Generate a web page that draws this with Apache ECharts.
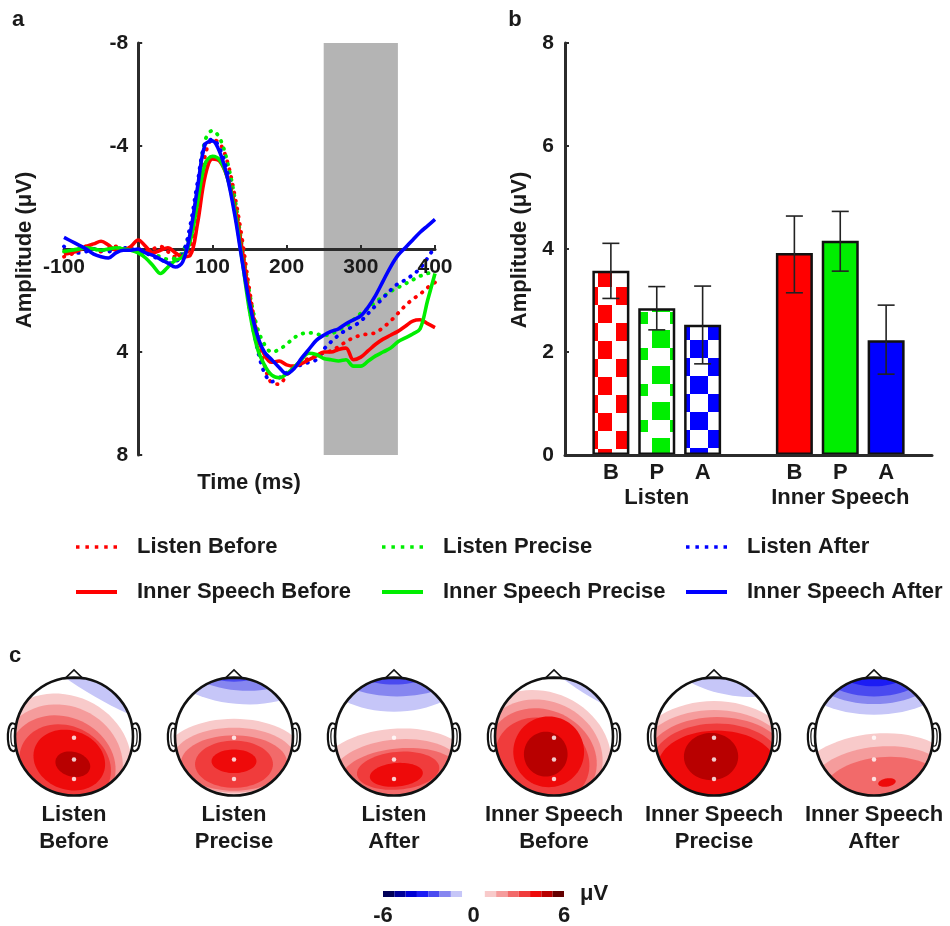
<!DOCTYPE html>
<html>
<head>
<meta charset="utf-8">
<script src="https://cdn.jsdelivr.net/npm/echarts@6/dist/echarts.min.js"></script>
<style>
  html, body { margin: 0; padding: 0; background: #fff; }
  #chart { width: 950px; height: 926px; }
</style>
</head>
<body>
<div id="chart"></div>
<script>
// ---- panel a: ERP waveforms (µV, positive plotted downward) ----
const timeMs = [-100, -90, -80, -70, -60, -50, -40, -30, -20, -10, 0, 10, 20, 30, 40, 50, 60, 70, 80, 90, 100,
  110, 120, 130, 140, 150, 160, 170, 180, 190, 200, 210, 220, 230, 240, 250, 260, 270, 280, 290, 300,
  310, 320, 330, 340, 350, 360, 370, 380, 390, 400];

const listenBefore = [0.3, 0.2, 0.0, -0.1, 0.0, 0.1, 0.0, -0.1, 0.0, 0.0, 0.0,
  0.1, 0.0, -0.1, 0.1, 0.3, 0.3, -0.1, -1.6, -3.6, -4.25,
  -4.1, -3.4, -2.1, -0.4, 1.6, 3.3, 4.5, 5.2, 5.25, 4.9,
  4.6, 4.4, 4.25, 4.15, 4.05, 3.95, 3.8, 3.6, 3.45, 3.35,
  3.3, 3.25, 3.05, 2.8, 2.5, 2.2, 1.95, 1.75, 1.5, 1.3];
const listenPrecise = [0.1, 0.05, 0.0, -0.05, 0.0, 0.05, 0.0, -0.05, 0.0, 0.05, 0.1,
  0.15, 0.2, 0.3, 0.4, 0.35, 0.1, -0.7, -2.4, -4.2, -4.6,
  -4.3, -3.4, -2.0, -0.1, 1.7, 3.0, 3.7, 4.0, 3.9, 3.7,
  3.45, 3.3, 3.25, 3.3, 3.35, 3.3, 3.15, 3.0, 2.75, 2.5,
  2.3, 2.05, 1.85, 1.65, 1.5, 1.35, 1.2, 1.05, 0.95, 0.85];
const listenAfter = [-0.1, 0.1, 0.15, 0.1, 0.0, 0.05, 0.1, 0.0, -0.05, 0.0, 0.05,
  0.15, 0.3, 0.4, 0.55, 0.5, 0.2, -0.9, -2.6, -4.1, -4.25,
  -3.9, -3.0, -1.6, 0.3, 2.3, 3.8, 4.8, 5.15, 5.0, 4.8,
  4.6, 4.5, 4.4, 4.3, 3.9, 3.6, 3.35, 3.15, 3.0, 2.8,
  2.5, 2.2, 1.9, 1.6, 1.35, 1.2, 1.0, 0.75, 0.35, -0.1];
const innerBefore = [0.2, 0.15, 0.05, -0.1, -0.2, -0.3, -0.15, 0.05, 0.05, -0.1, -0.35,
  -0.1, 0.15, 0.05, -0.05, 0.15, 0.3, 0.25, -1.0, -2.8, -3.5,
  -3.4, -2.8, -1.7, 0.0, 1.9, 3.3, 4.1, 4.4, 4.35, 4.5,
  4.55, 4.45, 4.3, 4.15, 4.0, 4.0, 3.9, 3.85, 4.3, 4.2,
  3.95, 3.7, 3.5, 3.35, 3.2, 3.0, 2.8, 2.75, 2.9, 3.05];
const innerPrecise = [0.1, 0.05, 0.0, -0.05, 0.0, 0.05, 0.0, -0.05, 0.0, 0.05, 0.15,
  0.35, 0.65, 0.95, 0.7, 0.45, 0.3, -0.3, -1.8, -3.3, -3.6,
  -3.45, -2.8, -1.5, 0.4, 2.4, 3.8, 4.5, 4.9, 5.0, 4.85,
  4.6, 4.3, 4.05, 4.1, 4.25, 4.3, 4.35, 4.3, 4.55, 4.55,
  4.35, 4.15, 4.0, 3.85, 3.6, 3.45, 3.3, 3.1, 2.0, 0.95];
const innerAfter = [-0.45, -0.3, -0.15, 0.0, 0.2, 0.3, 0.35, 0.15, 0.05, 0.05, 0.0,
  0.15, 0.25, 0.4, 0.55, 0.7, 0.5, -0.6, -2.4, -4.05, -4.2,
  -3.75, -2.8, -1.35, 0.45, 2.1, 3.3, 4.0, 4.3, 4.6, 4.85,
  4.65, 4.25, 3.9, 3.55, 3.35, 3.2, 3.1, 2.9, 2.75, 2.6,
  2.25, 1.8, 1.25, 0.7, 0.25, -0.05, -0.35, -0.65, -0.9, -1.15];
const analysisWindow = [250, 350];   // shaded window (ms)

// ---- panel b: mean amplitude in window ----
const barPos = [1, 2, 3, 5, 6, 7];
const barLetters = ['B', 'P', 'A', 'B', 'P', 'A'];
const groupNames = ['Listen', 'Inner Speech'];
const barMean = [3.58, 2.85, 2.53, 3.92, 4.16, 2.23];
const barErrLow = [3.04, 2.43, 1.77, 3.15, 3.57, 1.57];
const barErrHigh = [4.11, 3.27, 3.28, 4.64, 4.73, 2.91];

// ---- panel c: scalp maps, contour levels as ellipses [cx, cy, rx, ry, rotDeg, µV] (head radius = 1) ----
const topoListenBefore = [
  [0.6, 1.11, 1.8, 0.5, -30, -1.1],
  [-0.2, -0.35, 1.2, 1.05, -25, 1.1],
  [-0.2, -0.4, 1.05, 0.92, -25, 1.9],
  [-0.2, -0.45, 0.93, 0.78, -25, 2.6],
  [-0.15, -0.48, 0.8, 0.66, -25, 3.4],
  [-0.08, -0.4, 0.62, 0.5, -20, 4.1],
  [-0.02, -0.47, 0.3, 0.21, -15, 4.9]];
const topoListenPrecise = [
  [0.1, 1.35, 1.4, 0.8, -5, -1.1],
  [0.1, 1.4, 1.15, 0.62, -5, -1.9],
  [0.0, 1.35, 0.75, 0.42, 0, -2.6],
  [0, -0.35, 1.2, 0.65, 0, 1.1],
  [0, -0.4, 1.05, 0.55, 0, 1.9],
  [0, -0.45, 0.9, 0.47, 0, 2.6],
  [0, -0.47, 0.66, 0.4, 0, 3.4],
  [0, -0.42, 0.38, 0.2, 0, 4.1]];
const topoListenAfter = [
  [0, 1.2, 1.3, 0.78, 0, -1.1],
  [0.05, 1.25, 1.2, 0.57, 0, -1.9],
  [0, 1.3, 0.85, 0.42, 0, -2.6],
  [0, -0.55, 1.3, 0.68, 5, 1.1],
  [0.05, -0.6, 1.1, 0.55, 5, 1.9],
  [0.1, -0.65, 1.0, 0.45, 5, 2.6],
  [0.07, -0.58, 0.7, 0.32, 5, 3.4],
  [0.04, -0.65, 0.45, 0.2, 5, 4.1]];
const topoInnerBefore = [
  [0.75, 1.15, 1.6, 0.48, -32, -1.1],
  [-0.2, -0.25, 1.2, 1.0, -25, 1.1],
  [-0.2, -0.3, 1.05, 0.9, -25, 1.9],
  [-0.2, -0.35, 0.95, 0.8, -25, 2.6],
  [-0.2, -0.4, 0.82, 0.7, -25, 3.4],
  [-0.09, -0.26, 0.6, 0.6, 0, 4.1],
  [-0.14, -0.3, 0.37, 0.38, 0, 4.9]];
const topoInnerPrecise = [
  [0.3, 1.1, 1.0, 0.4, -10, -1.1],
  [0, -0.4, 1.4, 1.0, 0, 1.1],
  [0, -0.4, 1.3, 0.85, 0, 1.9],
  [0.05, -0.4, 1.2, 0.73, 0, 2.6],
  [0.05, -0.45, 1.1, 0.67, 0, 3.4],
  [0.05, -0.5, 1.0, 0.6, 0, 4.1],
  [-0.05, -0.34, 0.46, 0.4, 0, 4.9]];
const topoInnerAfter = [
  [0, 1.15, 1.4, 0.78, 0, -1.1],
  [0, 1.25, 1.2, 0.7, 0, -1.9],
  [0, 1.3, 1.05, 0.62, 0, -2.6],
  [0, 1.35, 0.8, 0.5, 0, -3.4],
  [0.05, -0.75, 1.4, 0.8, 5, 1.1],
  [0.1, -0.8, 1.2, 0.63, 5, 1.9],
  [0.15, -0.85, 1.0, 0.5, 5, 2.6],
  [0.22, -0.78, 0.15, 0.07, 10, 4.1]];
const electrodePos = [[0, -0.02], [0, -0.39], [0, -0.72]];
const topoLabels = [['Listen', 'Before'], ['Listen', 'Precise'], ['Listen', 'After'],
  ['Inner Speech', 'Before'], ['Inner Speech', 'Precise'], ['Inner Speech', 'After']];
const colorbarTicks = [-6, 0, 6];

const FONT = '"Liberation Sans", Arial, Helvetica, sans-serif';
const INK = '#1a1a1a';
const AXIS = '#2b2b2b';

const chart = echarts.init(document.getElementById('chart'));

const lineDefs = [
  { name: 'Listen Before', data: listenBefore, color: '#ff0000', dotted: true },
  { name: 'Listen Precise', data: listenPrecise, color: '#00ee00', dotted: true },
  { name: 'Listen After', data: listenAfter, color: '#0000ff', dotted: true },
  { name: 'Inner Speech Before', data: innerBefore, color: '#ff0000', dotted: false },
  { name: 'Inner Speech Precise', data: innerPrecise, color: '#00ee00', dotted: false },
  { name: 'Inner Speech After', data: innerAfter, color: '#0000ff', dotted: false }
];

// checkerboard fill for the Listen bars
function checker(color, ox, oy) {
  const c = document.createElement('canvas');
  c.width = 36; c.height = 36;
  const g = c.getContext('2d');
  g.fillStyle = '#fff';
  g.fillRect(0, 0, 36, 36);
  g.fillStyle = color;
  for (let i = -1; i <= 2; i++) {
    for (let j = -1; j <= 2; j++) {
      if ((i + j) % 2 === 0) g.fillRect(ox + 18 * i, oy + 18 * j, 18, 18);
    }
  }
  return { image: c, repeat: 'repeat' };
}
const barFills = [checker('#ff0000', 22, 17), checker('#00ee00', 22, 24), checker('#0000ff', 6, 16),
  '#ff0000', '#00ee00', '#0000ff'];

const headCx = [74, 234, 394, 554, 714, 874];
const headCy = 736.5;
const headR = 59;
const topoMaps = [topoListenBefore, topoListenPrecise, topoListenAfter,
  topoInnerBefore, topoInnerPrecise, topoInnerAfter];

function ellipsePts(api, cx, cy, rx, ry, rotDeg) {
  const a = rotDeg * Math.PI / 180, ca = Math.cos(a), sa = Math.sin(a);
  const pts = [];
  for (let k = 0; k < 72; k++) {
    const t = k / 72 * Math.PI * 2;
    const u = rx * Math.cos(t), v = ry * Math.sin(t);
    pts.push(api.coord([cx + u * ca - v * sa, cy + u * sa + v * ca]));
  }
  return pts;
}

function renderTopo(params, api) {
  const c = api.coord([0, 0]);
  const r = api.size([1, 1])[0];
  return {
    type: 'polygon',
    shape: { points: ellipsePts(api, api.value(0), api.value(1), api.value(2), api.value(3), api.value(4)) },
    style: { fill: api.visual('color'), stroke: null },
    clipPath: { type: 'circle', shape: { cx: c[0], cy: c[1], r: r } }
  };
}

function renderHead(params, api) {
  const c = api.coord([0, 0]);
  const r = api.size([1, 1])[0];
  const P = (x, y) => api.coord([x, y]);
  const stroke = { stroke: '#111', lineWidth: 2.2, fill: null };
  const earL = [[-0.985, 0.2], [-1.06, 0.22], [-1.11, 0.12], [-1.12, -0.05], [-1.09, -0.2], [-1.03, -0.25], [-0.985, -0.22]];
  const earLi = [[-1.0, 0.13], [-1.05, 0.13], [-1.07, 0.0], [-1.05, -0.15], [-1.0, -0.16]];
  const mirror = pts => pts.map(p => P(-p[0], p[1]));
  return {
    type: 'group',
    children: [
      { type: 'polygon', shape: { points: [P(-0.15, 0.985), P(0, 1.13), P(0.15, 0.985)] }, style: { stroke: '#111', lineWidth: 1.6, fill: '#fff' } },
      { type: 'polyline', shape: { points: earL.map(p => P(p[0], p[1])), smooth: 0.4 }, style: stroke },
      { type: 'polyline', shape: { points: earLi.map(p => P(p[0], p[1])), smooth: 0.4 }, style: { stroke: '#111', lineWidth: 1.2, fill: null } },
      { type: 'polyline', shape: { points: mirror(earL), smooth: 0.4 }, style: stroke },
      { type: 'polyline', shape: { points: mirror(earLi), smooth: 0.4 }, style: { stroke: '#111', lineWidth: 1.2, fill: null } },
      { type: 'circle', shape: { cx: c[0], cy: c[1], r: r }, style: { stroke: '#111', lineWidth: 2.6, fill: null } }
    ]
  };
}

const gridA = { left: 64, top: 43, width: 371, height: 412 };
const grids = [
  Object.assign({ outerBoundsMode: 'none' }, gridA),
  { left: 565, top: 43, width: 367, height: 412, outerBoundsMode: 'none' }
];
headCx.forEach(cx => grids.push({ left: cx - headR, top: headCy - headR, width: headR * 2, height: headR * 2, outerBoundsMode: 'none' }));

const labelStyle = { fontSize: 21, fontWeight: 'bold', color: INK, fontFamily: FONT };
const axisLineStyle = { color: AXIS, width: 3 };
const xRangeA = [-100, 400];
const yRangeA = [-8, 8];
// pixel offsets that put the tick-label axes onto the zero lines of panel a
const zeroY = gridA.height * (0 - yRangeA[0]) / (yRangeA[1] - yRangeA[0]);
const zeroX = gridA.width * (0 - xRangeA[0]) / (xRangeA[1] - xRangeA[0]);

const xAxes = [
  {
    gridIndex: 0, type: 'value', min: xRangeA[0], max: xRangeA[1], interval: 100, z: 3,
    axisLine: { onZero: true, lineStyle: axisLineStyle },
    axisTick: { inside: true, length: 4, lineStyle: { color: AXIS, width: 2 } },
    splitLine: { show: false },
    axisLabel: { show: false }
  },
  {
    gridIndex: 1, type: 'value', min: 0, max: 8, interval: 1, z: 3,
    axisLine: { onZero: false, lineStyle: axisLineStyle },
    axisTick: { show: false },
    splitLine: { show: false },
    axisLabel: Object.assign({}, labelStyle, {
      margin: 5, lineHeight: 25, fontSize: 22,
      formatter: v => {
        const i = barPos.indexOf(v);
        if (i < 0) return '';
        if (i === 1) return barLetters[i] + '\n' + groupNames[0];
        if (i === 4) return barLetters[i] + '\n' + groupNames[1];
        return barLetters[i];
      }
    })
  }
];
const yAxes = [
  {
    gridIndex: 0, type: 'value', min: yRangeA[0], max: yRangeA[1], interval: 4, inverse: true, z: 3,
    axisLine: { onZero: true, lineStyle: axisLineStyle },
    axisTick: { inside: true, length: 4, lineStyle: { color: AXIS, width: 2 } },
    splitLine: { show: false },
    axisLabel: { show: false }
  },
  {
    gridIndex: 1, type: 'value', min: 0, max: 8, interval: 2, z: 3,
    axisLine: { onZero: false, lineStyle: axisLineStyle },
    axisTick: { inside: true, length: 4, lineStyle: { color: AXIS, width: 2 } },
    splitLine: { show: false },
    axisLabel: Object.assign({ margin: 11 }, labelStyle)
  }
];
headCx.forEach((cx, i) => {
  xAxes.push({ gridIndex: 2 + i, type: 'value', min: -1, max: 1, show: false });
  yAxes.push({ gridIndex: 2 + i, type: 'value', min: -1, max: 1, show: false });
});
// label-only axes for panel a, sitting on the zero lines
const xLabelAxisIdx = xAxes.length;
xAxes.push({
  gridIndex: 0, type: 'value', min: xRangeA[0], max: xRangeA[1], interval: 100, z: 6,
  position: 'bottom', offset: -(gridA.height - zeroY),
  axisLine: { show: false, onZero: false }, axisTick: { show: false }, splitLine: { show: false },
  axisLabel: Object.assign({ margin: 8, formatter: v => (v === 0 ? '' : String(v)) }, labelStyle)
});
const yLabelAxisIdx = yAxes.length;
yAxes.push({
  gridIndex: 0, type: 'value', min: yRangeA[0], max: yRangeA[1], interval: 4, inverse: true, z: 6,
  position: 'left', offset: -zeroX,
  axisLine: { show: false, onZero: false }, axisTick: { show: false }, splitLine: { show: false },
  axisLabel: Object.assign({ margin: 10, formatter: v => (v === 0 ? '' : String(v)) }, labelStyle)
});

const series = [];
// shaded analysis window
series.push({
  type: 'custom', xAxisIndex: 0, yAxisIndex: 0, z: 1, silent: true,
  data: [analysisWindow],
  renderItem: (params, api) => {
    const p0 = api.coord([api.value(0), -8]);
    const p1 = api.coord([api.value(1), 8]);
    return { type: 'rect', shape: { x: p0[0], y: p0[1], width: p1[0] - p0[0], height: p1[1] - p0[1] }, style: { fill: '#b4b4b4' } };
  }
});
lineDefs.forEach(d => {
  series.push({
    name: d.name, type: 'line', xAxisIndex: 0, yAxisIndex: 0, z: 4,
    data: timeMs.map((t, i) => [t, d.data[i]]),
    showSymbol: false, symbol: 'none', smooth: 0.35,
    lineStyle: d.dotted
      ? { color: d.color, width: 3.8, type: [0.5, 7.5], cap: 'round' }
      : { color: d.color, width: 3.6, type: 'solid' },
    itemStyle: { color: d.color }
  });
});
// bars
series.push({
  type: 'bar', xAxisIndex: 1, yAxisIndex: 1, z: 2, barWidth: 37,
  data: barMean.map((v, i) => ({
    value: [barPos[i], v],
    itemStyle: { color: barFills[i], borderColor: '#111', borderWidth: 2.5 }
  }))
});
// error bars
series.push({
  type: 'custom', xAxisIndex: 1, yAxisIndex: 1, z: 5, silent: true,
  data: barPos.map((p, i) => [p, barErrLow[i], barErrHigh[i]]),
  renderItem: (params, api) => {
    const lo = api.coord([api.value(0), api.value(1)]);
    const hi = api.coord([api.value(0), api.value(2)]);
    const w = 8.5;
    const st = { stroke: '#222', lineWidth: 1.6 };
    return {
      type: 'group', children: [
        { type: 'line', shape: { x1: lo[0], y1: lo[1], x2: hi[0], y2: hi[1] }, style: st },
        { type: 'line', shape: { x1: lo[0] - w, y1: lo[1], x2: lo[0] + w, y2: lo[1] }, style: st },
        { type: 'line', shape: { x1: hi[0] - w, y1: hi[1], x2: hi[0] + w, y2: hi[1] }, style: st }
      ]
    };
  }
});
// scalp maps
const topoSeriesIdx = [];
topoMaps.forEach((m, i) => {
  topoSeriesIdx.push(series.length);
  series.push({
    type: 'custom', xAxisIndex: 2 + i, yAxisIndex: 2 + i, z: 2, silent: true,
    dimensions: ['cx', 'cy', 'rx', 'ry', 'rot', 'uv'],
    encode: { x: 0, y: 1 },
    data: m, renderItem: renderTopo
  });
  series.push({
    type: 'custom', xAxisIndex: 2 + i, yAxisIndex: 2 + i, z: 3, silent: true,
    data: [[0, 0]], renderItem: renderHead
  });
  series.push({
    type: 'scatter', xAxisIndex: 2 + i, yAxisIndex: 2 + i, z: 4, silent: true,
    data: electrodePos, symbolSize: 4.5, itemStyle: { color: '#fff' }
  });
});
// empty series that anchor the label-only axes
series.push({ type: 'line', xAxisIndex: xLabelAxisIdx, yAxisIndex: 0, data: [], silent: true });
series.push({ type: 'line', xAxisIndex: 0, yAxisIndex: yLabelAxisIdx, data: [], silent: true });

function txt(str, x, y, size, extra) {
  return Object.assign({
    type: 'text', x: x, y: y,
    style: { text: str, fontSize: size, fontWeight: 'bold', fontFamily: FONT, fill: INK, align: 'center', verticalAlign: 'middle' }
  }, extra || {});
}
const graphics = [
  txt('a', 18, 20, 22), txt('b', 515, 20, 22), txt('c', 15, 656, 22),
  txt('Amplitude (μV)', 25, 250, 22, { rotation: Math.PI / 2 }),
  txt('Amplitude (μV)', 520, 250, 22, { rotation: Math.PI / 2 }),
  txt('Time (ms)', 249, 483, 22),
  txt('μV', 594, 894, 22)
];
topoLabels.forEach((l, i) => {
  graphics.push(txt(l[0], headCx[i], 815, 22));
  graphics.push(txt(l[1], headCx[i], 842, 22));
});
const cbarLeft = 383, cbarRight = 564;
colorbarTicks.forEach(v => {
  const x = cbarLeft + (v + 6) / 12 * (cbarRight - cbarLeft);
  graphics.push(txt(String(v), x, 916, 22));
});

const dotIcon = 'path://M0,0h3.5v3.5h-3.5zM9.4,0h3.5v3.5h-3.5zM18.8,0h3.5v3.5h-3.5zM28.2,0h3.5v3.5h-3.5zM37.5,0h3.5v3.5h-3.5z';
const legendText = { fontSize: 22, fontWeight: 'bold', fontFamily: FONT, color: INK, lineHeight: 22, padding: [0, 0, 0, 15] };
function legendCol(left, names) {
  return {
    left: left, top: 536, orient: 'vertical', itemWidth: 41, itemHeight: 4, itemGap: 23,
    selectedMode: false, padding: 0,
    itemStyle: { borderWidth: 0 },
    data: [{ name: names[0], icon: dotIcon }, { name: names[1], icon: 'rect' }],
    textStyle: legendText
  };
}

chart.setOption({
  animation: false,
  backgroundColor: '#fff',
  textStyle: { fontFamily: FONT },
  grid: grids,
  xAxis: xAxes,
  yAxis: yAxes,
  legend: [
    legendCol(76, ['Listen Before', 'Inner Speech Before']),
    legendCol(382, ['Listen Precise', 'Inner Speech Precise']),
    legendCol(686, ['Listen After', 'Inner Speech After'])
  ],
  visualMap: {
    type: 'piecewise', seriesIndex: topoSeriesIdx, dimension: 5,
    orient: 'horizontal', left: cbarLeft, top: 891, padding: 0,
    itemWidth: (cbarRight - cbarLeft) / 16, itemHeight: 6, itemGap: 0, itemSymbol: 'rect',
    showLabel: false, selectedMode: false, hoverLink: false,
    pieces: [
      { min: -6, max: -5.25, color: '#000058' },
      { min: -5.25, max: -4.5, color: '#000098' },
      { min: -4.5, max: -3.75, color: '#0000d4' },
      { min: -3.75, max: -3, color: '#1c1cf4' },
      { min: -3, max: -2.25, color: '#4a4af0' },
      { min: -2.25, max: -1.5, color: '#8686f0' },
      { min: -1.5, max: -0.75, color: '#c6c6f8' },
      { min: -0.75, max: 0, color: '#ffffff' },
      { min: 0, max: 0.75, color: '#ffffff' },
      { min: 0.75, max: 1.5, color: '#f8caca' },
      { min: 1.5, max: 2.25, color: '#f59c9c' },
      { min: 2.25, max: 3, color: '#f26a6a' },
      { min: 3, max: 3.75, color: '#f03c3c' },
      { min: 3.75, max: 4.5, color: '#ee0a0a' },
      { min: 4.5, max: 5.25, color: '#b80000' },
      { min: 5.25, max: 6, color: '#640000' }
    ]
  },
  graphic: { elements: graphics },
  series: series
});
</script>
</body>
</html>
